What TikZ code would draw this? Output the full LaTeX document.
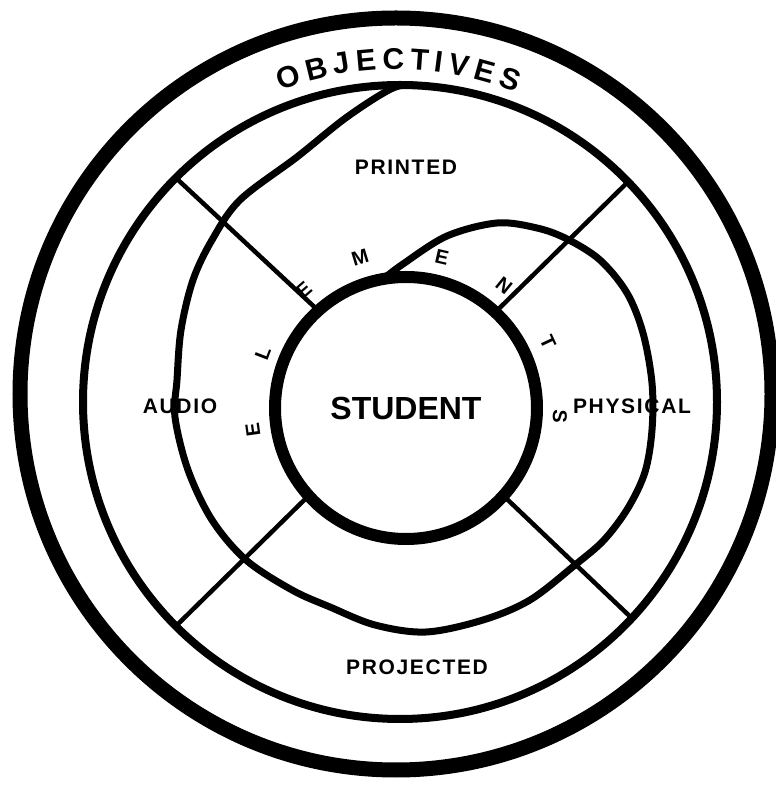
\documentclass[tikz,border=0pt]{standalone}
\usepackage{fontspec}
\setmainfont{Liberation Sans}
\newfontfamily\zonefont{Liberation Sans}[LetterSpace=8]

\begin{document}
\begin{tikzpicture}[x=1pt,y=1pt,band/.style={circle,draw,inner sep=0pt,outer sep=0pt},divider/.style={line width=4.5pt},spiral/.style={line width=7pt,line cap=round,line join=round},zone/.style={font=\zonefont\bfseries\fontsize{21}{21}\selectfont},letter/.style={font=\bfseries\fontsize{20}{20}\selectfont,inner sep=0pt},title/.style={font=\bfseries\fontsize{30}{30}\selectfont,inner sep=0pt}]
\useasboundingbox (0,0) rectangle (776,785);
\node[band,line width=15pt,minimum size=752pt] (objectives) at (396,391) {};
\node[band,line width=8pt,minimum size=634pt] (media) at (400,383) {};
\node[band,line width=12pt,minimum size=262pt,font=\bfseries\fontsize{32}{32}\selectfont] (student) at (406,377) {STUDENT};
\draw[divider] (student.132) -- (media.135);
\draw[divider] (student.47) -- (media.44);
\draw[divider] (student.222) -- (media.225);
\draw[divider] (student.318) -- (media.317);
\draw[spiral] plot[smooth,tension=0.55] coordinates {(student.100) (403,521) (447,549) (497,562) (537,557) (567,546) (600,525) (627,492) (643,452) (652,402) (652,355) (645,313) (628,277) (604,245) (575,220) (530,185) (483,165) (426,153) (375,160) (330,178) (292,195) (246,225) (212,265) (188,315) (175,368) (177,405) (181,455) (193,505) (212,545) (240,585) (297,628) (347,668) (393,697) (media.87)};
\node[title,rotate=18.7] (objo) at (288.7,708.3) {O};
\node[title,rotate=13.7] (objb) at (316.4,716.4) {B};
\node[title,rotate=9.4] (objj) at (341.5,721.5) {J};
\node[title,rotate=5.1] (obje) at (366.0,724.7) {E};
\node[title,rotate=0.5] (objc) at (393.3,726.0) {C};
\node[title,rotate=-4.1] (objt) at (419.7,725.2) {T};
\node[title,rotate=-7.4] (obji) at (439.3,723.2) {I};
\node[title,rotate=-10.9] (objv) at (459.5,719.9) {V};
\node[title,rotate=-15.5] (objee) at (485.2,713.9) {E};
\node[title,rotate=-20.0] (objs) at (510.4,705.9) {S};
\node[zone] (printed) at (406,618) {PRINTED};
\node[zone] (audio) at (180,379) {AUDIO};
\node[zone] (physical) at (632,379) {PHYSICAL};
\node[zone] (projected) at (417,118) {PROJECTED};
\node[letter,rotate=98] (e1) at (253,355) {E};
\node[letter,rotate=69] (l) at (263,432) {L};
\node[letter,rotate=41] (e2) at (304,495) {E};
\node[letter,rotate=17] (m) at (360,528) {M};
\node[letter,rotate=-13] (e3) at (442,528) {E};
\node[letter,rotate=-39] (n) at (504,499) {N};
\node[letter,rotate=-65] (t) at (548,443) {T};
\node[letter,rotate=-93] (s) at (560,368) {S};
\end{tikzpicture}
\end{document}
